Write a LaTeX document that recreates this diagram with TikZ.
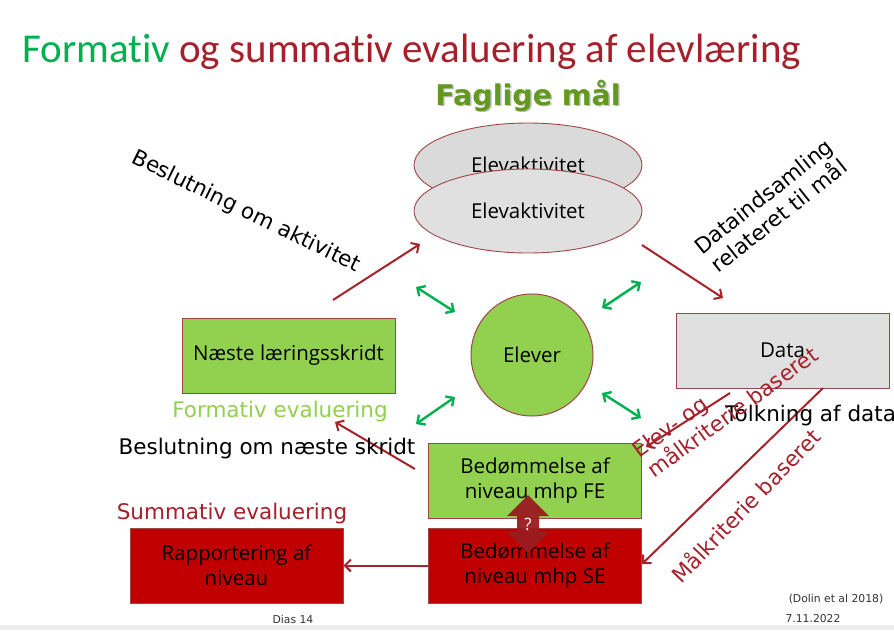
\documentclass[tikz,border=0pt]{standalone}
\usepackage{fontspec}
\setmainfont{DejaVu Sans}
\newfontfamily\titlefont[Ligatures={NoCommon,NoRare,NoContextual}]{Carlito}
\newfontfamily\boxfont{Open Sans}
\usetikzlibrary{arrows.meta,shapes.geometric}
\definecolor{arrowred}{RGB}{165,35,42}
\definecolor{titlered}{RGB}{165,32,42}
\definecolor{fgreen}{RGB}{0,176,80}
\definecolor{lgreen}{RGB}{146,208,80}
\definecolor{boxred}{RGB}{192,0,0}
\definecolor{boxgray}{RGB}{224,224,224}
\definecolor{ellgray}{RGB}{218,218,218}
\definecolor{edgered}{RGB}{158,70,72}
\definecolor{faggreen}{RGB}{98,154,30}
\definecolor{bandgray}{RGB}{236,236,236}
\definecolor{qred}{RGB}{155,27,32}
\tikzset{
  boxnode/.style={rectangle, draw=edgered, line width=1pt, minimum width=213pt, minimum height=75pt, inner sep=0pt, align=center, font=\boxfont\fontsize{20.5}{25}\selectfont},
  ellnode/.style={ellipse, draw=edgered, line width=0.9pt, fill=ellgray, minimum width=228pt, minimum height=84pt, inner sep=0pt, font=\boxfont\fontsize{20.5}{25}\selectfont},
  lbl/.style={inner sep=0pt, font=\fontsize{21.5}{25}\selectfont},
  smalllbl/.style={inner sep=0pt, font=\fontsize{10.8}{13}\selectfont, text=black!80},
  redarrow/.style={draw=arrowred, line width=2pt, -{Straight Barb[length=6pt,width=12pt]}},
  greenarrow/.style={draw=fgreen, line width=2.4pt, {Straight Barb[length=6pt,width=12pt]}-{Straight Barb[length=6pt,width=12pt]}}
}
\begin{document}
\begin{tikzpicture}[x=1pt,y=-1pt]
\useasboundingbox (0,0) rectangle (894,630);
\fill[white] (0,0) rectangle (894,630);
\fill[bandgray] (0,625) rectangle (894,630);

% title
\node[anchor=base west, inner sep=0pt, font=\titlefont\fontsize{41}{48}\selectfont] (title) at (22,62)
  {\textcolor{fgreen}{Formativ} \textcolor{titlered}{og summativ evaluering af elevlæring}};

% Faglige mål
\node[anchor=base, inner sep=0pt, font=\bfseries\fontsize{28.5}{32}\selectfont, text=black!25] (fagshadow) at (529.5,106.5) {Faglige mål};
\node[anchor=base, inner sep=0pt, font=\bfseries\fontsize{28.5}{32}\selectfont, text=faggreen] (fag) at (528,105) {Faglige mål};

% ellipses
\node[ellnode, fill=ellgray] (ellback) at (528,165) {\raisebox{-2pt}{Elevaktivitet}};
\node[ellnode, fill=boxgray] (ellfront) at (528,211) {Elevaktivitet};

% circle
\node[circle, draw=edgered, line width=1pt, fill=lgreen, minimum size=122pt, inner sep=0pt, font=\boxfont\fontsize{20.5}{25}\selectfont] (elever) at (532,355) {Elever};

% boxes
\node[boxnode, fill=lgreen] (naeste) at (288.5,355.5) {Næste læringsskridt};
\node[boxnode, fill=boxgray] (data) at (782.5,350.5) {Data};
\node[boxnode, fill=lgreen] (fe) at (535,480.5) {Bedømmelse af\\niveau mhp FE};
\node[boxnode, fill=boxred] (se) at (535,565.5) {Bedømmelse af\\niveau mhp SE};
\node[boxnode, fill=boxred] (rap) at (236.5,565.5) {Rapportering af\\niveau};

% question double arrow
\fill[qred, opacity=0.95] (528,495) -- (549,516) -- (539,516) -- (539,532) -- (549,532) -- (528,553)
  -- (507,532) -- (517,532) -- (517,516) -- (507,516) -- cycle;
\node[inner sep=0pt, text=white, font=\boxfont\fontsize{17}{20}\selectfont] (q) at (528,524) {?};

% green arrows
\coordinate (g1a) at (416,287); \coordinate (g1b) at (455,312);
\coordinate (g2a) at (602,308); \coordinate (g2b) at (641,282);
\coordinate (g3a) at (416,424); \coordinate (g3b) at (455,397);
\coordinate (g4a) at (602,393); \coordinate (g4b) at (641,418);
\draw[greenarrow] (g1a) -- (g1b);
\draw[greenarrow] (g2a) -- (g2b);
\draw[greenarrow] (g3a) -- (g3b);
\draw[greenarrow] (g4a) -- (g4b);

% red arrows
\coordinate (r1a) at (333,300); \coordinate (r1b) at (420,244);
\coordinate (r2a) at (642,245); \coordinate (r2b) at (723,298);
\coordinate (r3a) at (730,393); \coordinate (r3b) at (646,447);
\coordinate (r4a) at (823,388); \coordinate (r4b) at (642,564);
\coordinate (r6a) at (415,469); \coordinate (r6b) at (335,422);
\draw[redarrow] (r1a) -- (r1b);
\draw[redarrow] (r2a) -- (r2b);
\draw[redarrow] (r3a) -- (r3b);
\draw[redarrow] (r4a) -- (r4b);
\draw[redarrow] (se.west) -- (rap.east);
\draw[redarrow] (r6a) -- (r6b);

% labels
\node[lbl, rotate=-26] (lbl1) at (246,212) {Beslutning om aktivitet};
\node[lbl, rotate=38.5, align=center] (lbl2) at (771,206) {Dataindsamling\\relateret til mål};
\node[lbl, anchor=west] (lbl3) at (725,416) {Tolkning af data};
\node[lbl, rotate=36, align=left, text=titlered] (lbl4) at (725,402) {Elev- og\\målkriterie baseret};
\node[lbl, rotate=46, text=titlered] (lbl5) at (745,505) {Målkriterie baseret};
\node[lbl, text=lgreen] (lbl6) at (280,412) {Formativ evaluering};
\node[lbl] (lbl7) at (267,449) {Beslutning om næste skridt};
\node[lbl, text=titlered] (lbl8) at (232,514) {Summativ evaluering};

% footer
\node[smalllbl] (dias) at (293,619) {Dias 14};
\node[smalllbl] (dato) at (813,619) {7.11.2022};
\node[smalllbl] (dolin) at (836,599) {(Dolin et al 2018)};
\end{tikzpicture}
\end{document}
